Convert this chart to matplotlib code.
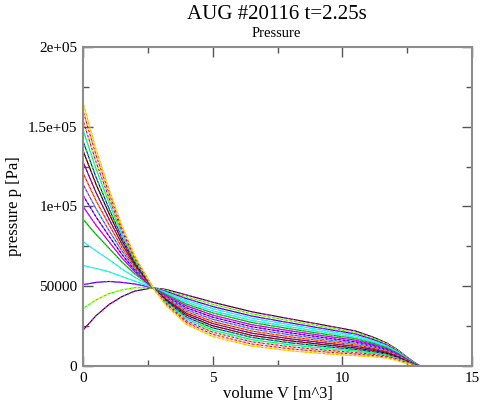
import matplotlib
matplotlib.use("Agg")
import matplotlib.pyplot as plt
from matplotlib.ticker import MultipleLocator, FixedLocator

# ---- data (pressure profiles, kPa) ----
volume = [0, 0.5, 1, 1.5, 2, 2.7, 3.2, 4.0, 5.0, 6.5, 8.0, 9.5,
          10.5, 11.2, 11.7, 12.1, 12.5, 12.8, 13.0]

p00 = [22.5, 31.5, 38.5, 43.5, 47, 49, 48, 44.5, 40, 34, 29.5, 25, 22, 18, 14.5, 10.5, 5.5, 2, 0]
p01 = [36, 41.4, 45.4, 47.7, 49.1, 49, 47.4, 43.3, 38.7, 32.7, 28.3, 23.9, 21.0, 17.2, 13.9, 10.1, 5.25, 1.9, 0]
p02 = [51, 52.4, 53.0, 52.4, 51.4, 49, 46.8, 42.2, 37.3, 31.3, 27.0, 22.8, 20.1, 16.5, 13.3, 9.6, 5.0, 1.75, 0]
p03 = [63, 61.2, 59.1, 56.1, 53.2, 49, 46.1, 41.0, 36.0, 30.0, 25.8, 21.7, 19.1, 15.7, 12.7, 9.2, 4.75, 1.6, 0]
p04 = [78, 72.2, 66.7, 60.8, 55.6, 49, 45.5, 39.9, 34.6, 28.6, 24.5, 20.6, 18.1, 14.95, 12.1, 8.75, 4.5, 1.5, 0]
p05 = [92, 82.5, 73.9, 65.2, 57.7, 49, 44.9, 38.7, 33.3, 27.3, 23.25, 19.5, 17.2, 14.2, 11.5, 8.3, 4.25, 1.4, 0]
p06 = [100, 88.3, 77.9, 67.7, 59, 49, 44.25, 37.6, 31.9, 25.9, 22.0, 18.4, 16.2, 13.4, 10.9, 7.9, 4.0, 1.25, 0]
p07 = [107, 93.5, 81.5, 69.9, 60, 49, 43.6, 36.4, 30.6, 24.6, 20.75, 17.3, 15.2, 12.7, 10.3, 7.4, 3.75, 1.1, 0]
p08 = [114, 98.6, 85, 72.1, 61.1, 49, 43, 35.25, 29.25, 23.25, 19.5, 16.25, 14.25, 11.9, 9.75, 7.0, 3.5, 1, 0]
p09 = [121, 103.7, 88.6, 74.2, 62.2, 49, 42.4, 34.1, 27.9, 21.9, 18.25, 15.2, 13.3, 11.1, 9.2, 6.6, 3.25, 0.9, 0]
p10 = [128, 108.8, 92.2, 76.4, 63.3, 49, 41.75, 32.9, 26.6, 20.6, 17.0, 14.1, 12.3, 10.4, 8.6, 6.1, 3.0, 0.75, 0]
p11 = [135, 114, 95.7, 78.6, 64.4, 49, 41.1, 31.8, 25.2, 19.2, 15.75, 13.0, 11.3, 9.6, 8.0, 5.7, 2.75, 0.6, 0]
p12 = [141, 118.4, 98.8, 80.5, 65.3, 49, 40.5, 30.6, 23.9, 17.9, 14.5, 11.9, 10.4, 8.85, 7.4, 5.25, 2.5, 0.5, 0]
p13 = [148, 123.6, 102.4, 82.7, 66.4, 49, 39.9, 29.5, 22.5, 16.5, 13.25, 10.8, 9.4, 8.1, 6.8, 4.8, 2.25, 0.4, 0]
p14 = [154, 128, 105.4, 84.6, 67.3, 49, 39.25, 28.3, 21.2, 15.2, 12.0, 9.7, 8.4, 7.3, 6.2, 4.4, 2.0, 0.25, 0]
p15 = [160, 132.3, 108.5, 86.4, 68.2, 49, 38.6, 27.2, 19.8, 13.8, 10.75, 8.6, 7.5, 6.6, 5.6, 3.9, 1.75, 0.1, 0]
p16 = [165, 136, 111, 88, 69, 49, 38, 26, 18.5, 12.5, 9.5, 7.5, 6.5, 5.8, 5.0, 3.5, 1.5, 0, 0]

profiles = [p00, p01, p02, p03, p04, p05, p06, p07, p08, p09,
            p10, p11, p12, p13, p14, p15, p16]

# grace-like colours: solid line colour, dashed overlay colour
solid_cols = ['#000000', '#00ff00', '#0000ff', '#00ffff', '#40e0d0', '#008b00',
              '#9400d3', '#ff00ff', '#7221bc', '#ff0000', '#670748', '#000000',
              '#0000ff', '#00ff00', '#9400d3', '#ff0000', '#ffa500']
dash_cols = ['#ff00ff', '#ffff00', '#ff00ff', '#40e0d0', '#00ffff', '#00ff00',
             '#ff00ff', '#0000ff', '#00ffff', '#ffa500', '#9400d3', '#ff0000',
             '#00ff00', '#00ffff', '#ffff00', '#dcdcdc', '#ffff00']

xticks = [0, 5, 10, 15]
yticks = [0, 50000, 100000, 150000, 200000]
yticklabels = ['0', '50000', '1e+05', '1.5e+05', '2e+05']

# ---- figure ----
plt.rcParams['font.family'] = ['Liberation Serif', 'DejaVu Serif']

fig = plt.figure(figsize=(4.81, 4.12), dpi=100)
ax = fig.add_axes([0.1726, 0.1117, 0.8087, 0.7743])

for prof, c1, c2 in zip(profiles, solid_cols, dash_cols):
    p = [v * 1000 for v in prof]
    ax.plot(volume, p, color=c1, lw=0.8)
    ax.plot(volume, p, color=c2, lw=0.8, dashes=(2, 2))

ax.set_xlim(0, 15)
ax.set_ylim(0, 200000)
ax.xaxis.set_major_locator(FixedLocator(xticks))
ax.xaxis.set_minor_locator(MultipleLocator(2.5))
ax.yaxis.set_major_locator(FixedLocator(yticks))
ax.yaxis.set_minor_locator(MultipleLocator(25000))
ax.set_yticklabels(yticklabels)

for s in ax.spines.values():
    s.set_color('#8c8c8c')
    s.set_linewidth(1.5)
ax.tick_params(which='both', direction='in', top=True, right=True,
               color='#555555', labelsize=11, pad=4)
ax.tick_params(which='major', length=7, width=1.0)
ax.tick_params(which='minor', length=4, width=1.0)

ax.set_xlabel("volume V [m^3]", fontsize=12, labelpad=1)
ax.set_ylabel("pressure p [Pa]", fontsize=12, labelpad=4)

fig.text(0.575, 0.965, "AUG #20116 t=2.25s", ha='center', va='center', fontsize=15)
fig.text(0.575, 0.918, "Pressure", ha='center', va='center', fontsize=10.5)

fig.savefig("out.png", dpi=100)
